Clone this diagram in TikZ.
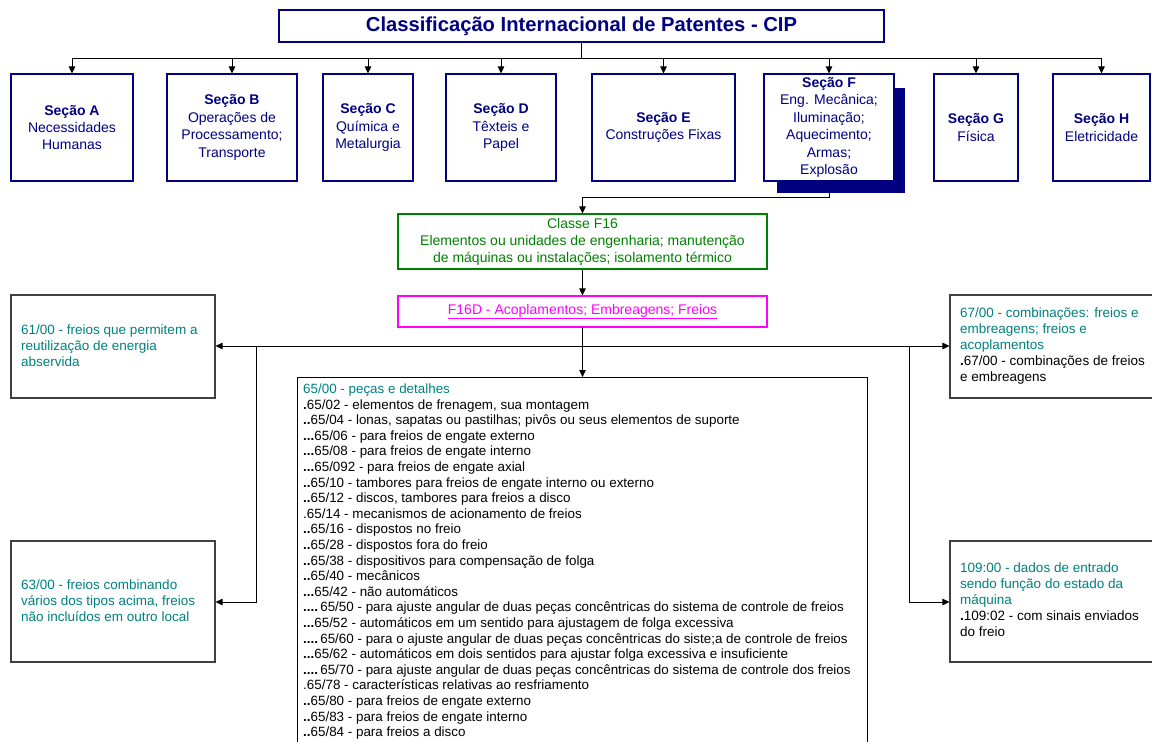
\documentclass[tikz,border=0pt]{standalone}
\usepackage{fontspec}
\setmainfont{Liberation Sans}
\usetikzlibrary{arrows.meta}
\definecolor{navy}{RGB}{0,0,128}
\definecolor{tealc}{RGB}{0,128,128}
\definecolor{greenc}{RGB}{0,128,0}
\definecolor{magc}{RGB}{255,0,255}
\definecolor{grayc}{RGB}{64,64,64}
\newcommand{\dts}[1]{\textbf{#1}}
\begin{document}
\begin{tikzpicture}[x=1pt,y=-1pt,
  secbox/.style={draw=navy,line width=1.1pt,fill=white,inner sep=0pt,minimum height=107pt,align=center,text=navy,font=\fontsize{14}{17.4}\selectfont},
  conn/.style={draw=black,line width=0.9pt},
  arr/.style={conn,-{Triangle[length=7pt,width=6.5pt]}},
  sidebox/.style={draw=grayc,line width=1.1pt,inner sep=0pt},
  body/.style={font=\fontsize{13.5}{16}\selectfont,align=left,inner sep=0pt,anchor=west},
]
\path[use as bounding box] (0,0) rectangle (1152,742);
\clip (0,0) rectangle (1152,742);

% title
\node[draw=navy,line width=1.1pt,minimum width=605pt,minimum height=32pt,inner sep=0pt,text=navy,font=\fontsize{20.2}{24}\selectfont\bfseries] (title) at (581.5,26) {Classificação Internacional de Patentes - CIP};

% sections
\node[fill=navy,minimum width=128pt,minimum height=105pt,inner sep=0pt] (fshadow) at (841,140.5) {};
\node[secbox,minimum width=122pt] (sA) at (72,127.5) {\textbf{Seção A}\\Necessidades\\Humanas};
\node[secbox,minimum width=130pt] (sB) at (232,127.5) {\textbf{Seção B}\\Operações de\\Processamento;\\Transporte};
\node[secbox,minimum width=90pt] (sC) at (368,127.5) {\textbf{Seção C}\\Química e\\Metalurgia};
\node[secbox,minimum width=110pt] (sD) at (501,127.5) {\textbf{Seção D}\\Têxteis e\\Papel};
\node[secbox,minimum width=143pt] (sE) at (663.5,127.5) {\textbf{Seção E}\\Construções Fixas};
\node[secbox,minimum width=130pt] (sF) at (829,127.5) {\textbf{Seção F}\\Eng. Mecânica;\\Iluminação;\\Aquecimento;\\Armas;\\Explosão};
\node[secbox,minimum width=84pt] (sG) at (976,127.5) {\textbf{Seção G}\\Física};
\node[secbox,minimum width=97pt] (sH) at (1101.5,127.5) {\textbf{Seção H}\\Eletricidade};

\coordinate (busy) at (0,58);
\draw[conn] (title.south) -- (title.south |- busy);
\draw[conn] (sA.north |- busy) -- (sH.north |- busy);
\foreach \s in {sA,sB,sC,sD,sE,sF,sG,sH} \draw[arr] (\s.north |- busy) -- (\s.north);

% class nodes
\node[draw=greenc,line width=1.1pt,minimum width=369pt,minimum height=55pt,inner sep=0pt,align=center,text=greenc,font=\fontsize{14}{17}\selectfont] (c16) at (582.5,241.5) {Classe F16\\Elementos ou unidades de engenharia; manutenção\\de máquinas ou instalações; isolamento térmico};
\node[draw=magc,line width=1.1pt,minimum width=369pt,minimum height=31pt,inner sep=0pt,text=magc,font=\fontsize{14}{17}\selectfont] (f16d) at (582.5,311.5) {\underline{F16D - Acoplamentos; Embreagens; Freios}};

\coordinate (fy) at (0,197);
\draw[arr] (sF.south) -- (sF.south |- fy) -- (c16.north |- fy) -- (c16.north);
\draw[arr] (c16.south) -- (f16d.north);

% big box
\node[draw=black,line width=1.1pt,minimum width=570pt,minimum height=383pt,inner sep=0pt,anchor=north west] (big) at (297,377) {};
\draw[arr] (f16d.south) -- (big.north);

% side boxes
\node[sidebox,minimum width=204pt,minimum height=103pt] (l61) at (113,346.5) {};
\node[sidebox,minimum width=204pt,minimum height=121pt] (l63) at (113,601.5) {};
\node[sidebox,minimum width=210pt,minimum height=103pt] (r67) at (1055,346.5) {};
\node[sidebox,minimum width=210pt,minimum height=121pt] (r109) at (1055,601.5) {};

\coordinate (hy) at (0,346);
\coordinate (ly) at (0,602);
\coordinate (j) at (f16d.south |- hy);
\coordinate (vl) at (256,346);
\coordinate (vr) at (909,346);
\draw[arr] (j) -- (l61.east |- hy);
\draw[arr] (j) -- (r67.west |- hy);
\draw[arr] (vl) -- (vl |- ly) -- (l63.east |- ly);
\draw[arr] (vr) -- (vr |- ly) -- (r109.west |- ly);

% side texts
\node[body,text=tealc] (t61) at (21,346) {61/00 - freios que permitem a\\reutilização de energia\\abservida};
\node[body,text=tealc] (t63) at (21,601) {63/00 - freios combinando\\vários dos tipos acima, freios\\não incluídos em outro local};
\node[body] (t67) at (960,346) {\textcolor{tealc}{67/00 - combinações: freios e}\\\textcolor{tealc}{embreagens; freios e}\\\textcolor{tealc}{acoplamentos}\\\dts{.}67/00 - combinações de freios\\e embreagens};
\node[body] (t109) at (960,600) {\textcolor{tealc}{109:00 - dados de entrado}\\\textcolor{tealc}{sendo função do estado da}\\\textcolor{tealc}{máquina}\\\dts{.}109:02 - com sinais enviados\\do freio};

% big text
\node[font=\fontsize{13.4}{15.6}\selectfont,align=left,inner sep=0pt,anchor=north west] (t65) at (303,383.5) {%
\textcolor{tealc}{65/00 - peças e detalhes}\\
\dts{.}65/02 - elementos de frenagem, sua montagem\\
\dts{..}65/04 - lonas, sapatas ou pastilhas; pivôs ou seus elementos de suporte\\
\dts{...}65/06 - para freios de engate externo\\
\dts{...}65/08 - para freios de engate interno\\
\dts{...}65/092 - para freios de engate axial\\
\dts{..}65/10 - tambores para freios de engate interno ou externo\\
\dts{..}65/12 - discos, tambores para freios a disco\\
.65/14 - mecanismos de acionamento de freios\\
\dts{..}65/16 - dispostos no freio\\
\dts{..}65/28 - dispostos fora do freio\\
\dts{..}65/38 - dispositivos para compensação de folga\\
\dts{..}65/40 - mecânicos\\
\dts{...}65/42 - não automáticos\\
\dts{....}\,65/50 - para ajuste angular de duas peças concêntricas do sistema de controle de freios\\
\dts{...}65/52 - automáticos em um sentido para ajustagem de folga excessiva\\
\dts{....}\,65/60 - para o ajuste angular de duas peças concêntricas do siste;a de controle de freios\\
\dts{...}65/62 - automáticos em dois sentidos para ajustar folga excessiva e insuficiente\\
\dts{....}\,65/70 - para ajuste angular de duas peças concêntricas do sistema de controle dos freios\\
.65/78 - características relativas ao resfriamento\\
\dts{..}65/80 - para freios de engate externo\\
\dts{..}65/83 - para freios de engate interno\\
\dts{..}65/84 - para freios a disco};
\end{tikzpicture}
\end{document}
